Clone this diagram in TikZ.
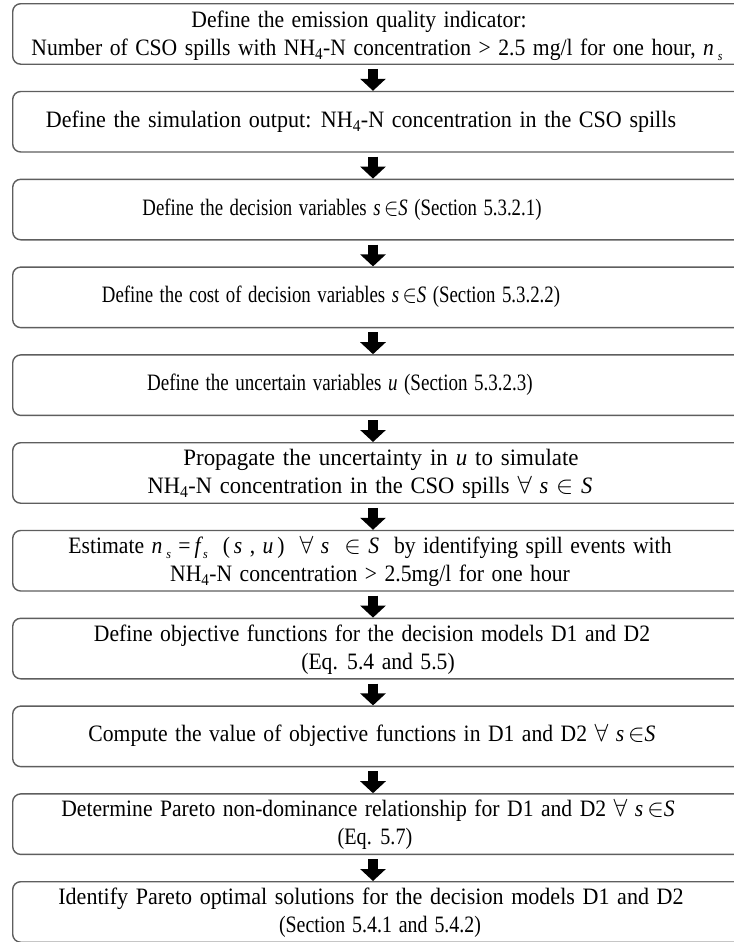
\documentclass[tikz,border=0pt]{standalone}
\usepackage{fontspec}
\usepackage{graphicx}
\setmainfont{Liberation Serif}[FakeStretch=0.92]
\usetikzlibrary{arrows.meta}
\definecolor{boxgray}{HTML}{5E5E5E}
\newcommand{\stepfont}{\fontsize{23.5bp}{28bp}\selectfont
  \spaceskip=7.5bp plus 2bp minus 1bp\relax}
\newcommand{\iv}[1]{\textit{#1}}
% small lowered italic index, as in n_s
\newcommand{\subs}[1]{\raisebox{-0.5ex}{\fontsize{13bp}{13bp}\selectfont\textit{#1}}}
% one line, condensed or widened by #1
\newcommand{\sqz}[2]{\scalebox{#1}[1]{#2}}
% centred lines of a step
\newcommand{\steplines}[1]{\begin{tabular}{@{}c@{}}#1\end{tabular}}
\begin{document}
\begin{tikzpicture}[x=1bp,y=-1bp,
  stepbox/.style={draw=boxgray, line width=1.4bp, rounded corners=8bp,
    minimum width=750bp, minimum height=60.5bp, inner sep=0pt, anchor=north west},
  steptext/.style={font=\stepfont, inner sep=0pt},
  flow/.style={black, line width=10bp, shorten <=4bp,
    -{Triangle[width=25bp,length=12bp]}}]
\useasboundingbox (0,0) rectangle (734,942);
\clip (0,0) rectangle (734,942);
\coordinate (ax) at (373,0);

% frames of the eleven steps
\foreach \i in {1,...,11}
  \node[stepbox] (b\i) at (12,{3+87.8*(\i-1)}) {};

% step texts
\node[steptext] (t1) at ([xshift=4bp,yshift=-2bp]b1.center -| ax)
  {\steplines{Define the emission quality indicator:\kern36bp\\
   Number of CSO spills with NH\textsubscript{4}-N concentration > 2.5 mg/l for one hour, \iv{n}\,\subs{s}}};
\node[steptext] (t2) at ([xshift=-12bp]b2.center -| ax)
  {\steplines{\sqz{1.02}{Define the simulation output: NH\textsubscript{4}-N concentration in the CSO spills}}};
\node[steptext] (t3) at ([xshift=-31bp]b3.center -| ax)
  {\steplines{\sqz{0.87}{Define the decision variables \iv{s}\,$\in$\iv{S} (Section 5.3.2.1)}}};
\node[steptext] (t4) at ([xshift=-42bp]b4.center -| ax)
  {\steplines{\sqz{0.87}{Define the cost of decision variables \iv{s}\,$\in$\iv{S} (Section 5.3.2.2)}}};
\node[steptext] (t5) at ([xshift=-33bp]b5.center -| ax)
  {\steplines{\sqz{0.88}{Define the uncertain variables \iv{u} (Section 5.3.2.3)}}};
\node[steptext] (t6) at ([xshift=-3bp,yshift=-1bp]b6.center -| ax)
  {\steplines{\kern22bp\sqz{1.06}{Propagate the uncertainty in \iv{u} to simulate}\\
   \sqz{1.04}{NH\textsubscript{4}-N concentration in the CSO spills $\forall$ \iv{s} $\in$ \iv{S}}}};
\node[steptext] (t7) at ([xshift=-3bp,yshift=-1bp]b7.center -| ax)
  {\steplines{Estimate\ \iv{n}\,\subs{s}\ =\,\iv{f}\subs{s}\ \ (\,\iv{s}\ ,\ \iv{u}\,)\ \ $\forall$\ \iv{s}\ \ $\in$\ \iv{S}\ \ by identifying spill events with\\
   NH\textsubscript{4}-N concentration > 2.5mg/l for one hour}};
\node[steptext] (t8) at ([xshift=-1bp,yshift=-1bp]b8.center -| ax)
  {\steplines{Define objective functions for the decision models D1 and D2\\
   \kern12bp(Eq. 5.4 and 5.5)}};
\node[steptext] (t9) at ([xshift=-1bp]b9.center -| ax)
  {\steplines{Compute the value of objective functions in D1 and D2 $\forall$ \iv{s}\,$\in$\iv{S}}};
\node[steptext] (t10) at ([xshift=-5bp,yshift=-1bp]b10.center -| ax)
  {\steplines{Determine Pareto non-dominance relationship for D1 and D2 $\forall$ \iv{s}\,$\in$\iv{S}\\
   \kern14bp\sqz{0.93}{(Eq. 5.7)}}};
\node[steptext] (t11) at ([xshift=-2bp,yshift=-1bp]b11.center -| ax)
  {\steplines{\sqz{1.02}{Identify Pareto optimal solutions for the decision models D1 and D2}\\
   \kern18bp\sqz{0.92}{(Section 5.4.1 and 5.4.2)}}};

% block arrows between consecutive steps
\foreach \i [evaluate=\i as \j using int(\i+1)] in {1,...,10}
  \draw[flow] (b\i.south -| ax) -- (b\j.north -| ax);
\end{tikzpicture}
\end{document}
